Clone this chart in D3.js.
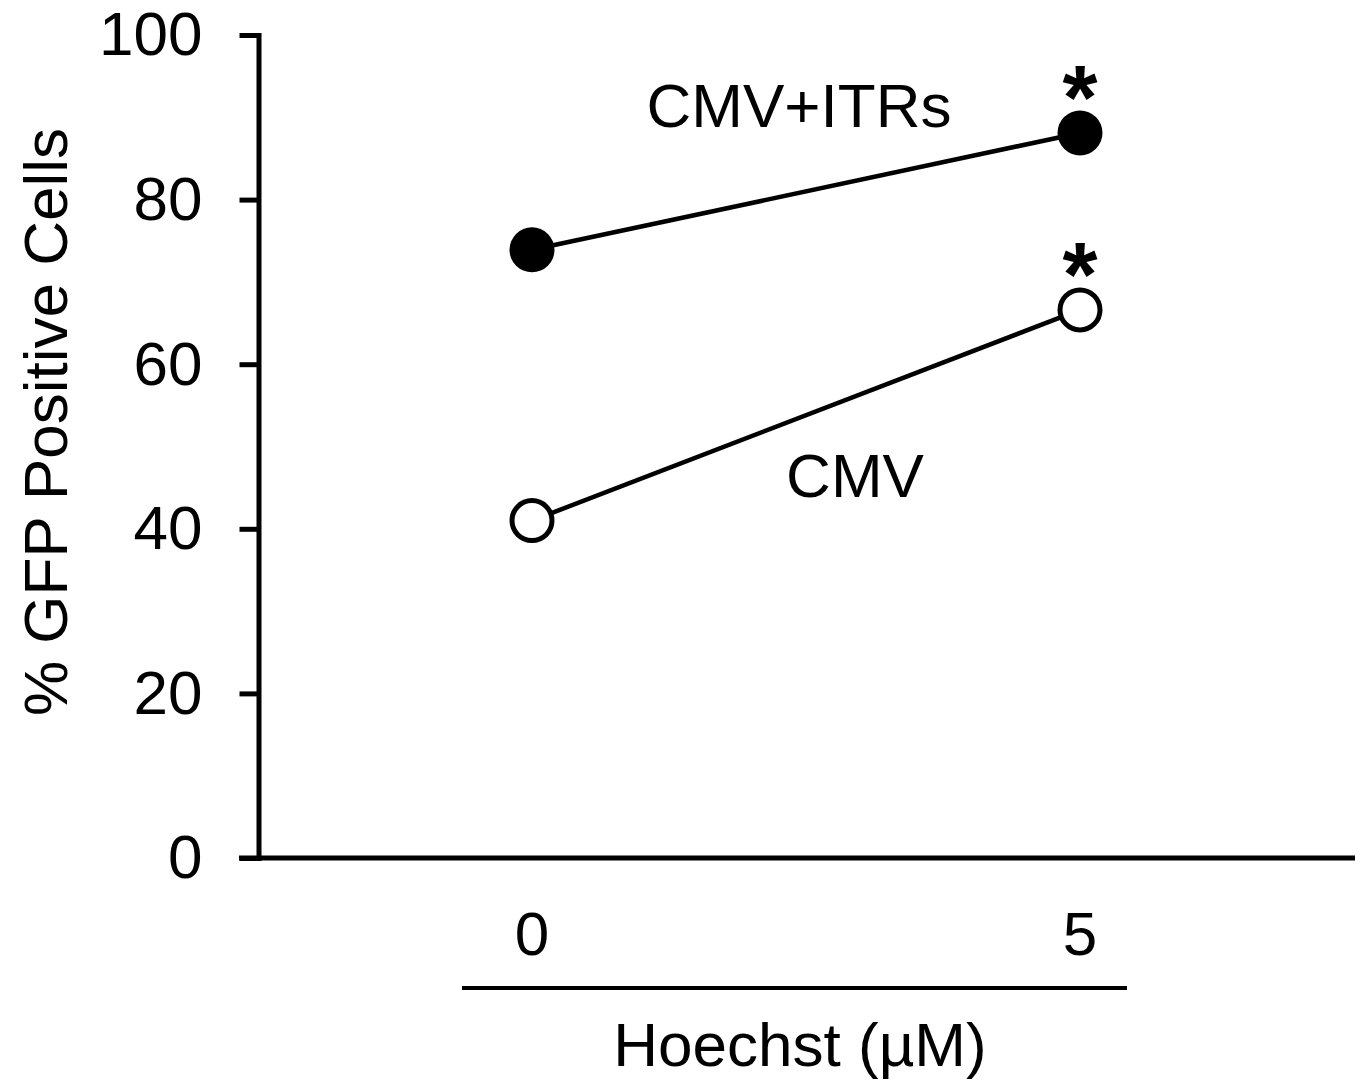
<!DOCTYPE html>
<html>
<head>
<meta charset="utf-8">
<script src="https://cdn.jsdelivr.net/npm/d3@7"></script>
<style>
  body { margin: 0; background: #fff; }
  svg text { font-family: "Liberation Sans", Arial, sans-serif; fill: #000; }
</style>
</head>
<body>
<svg id="chart" width="1362" height="1081"></svg>
<script>
// data
var doses = ["0", "5"];
var cmvItrs = [73.9, 88.1];
var cmv = [41.0, 66.6];
var signif = [false, true];
var yTicks = [0, 20, 40, 60, 80, 100];

var width = 1362,
    height = 1081,
    fontSize = 62;

var svg = d3.select("#chart");

var y = d3.scaleLinear().domain([0, 100]).range([858, 35]);
var x = d3.scalePoint().domain(doses).range([532, 1080]);
var axisX = 258.5;

// y axis
var yAxis = svg.append("g")
    .attr("transform", "translate(" + axisX + ",0)")
    .call(d3.axisLeft(y).tickValues(yTicks).tickSize(19).tickSizeOuter(0).tickPadding(37));
yAxis.select(".domain").attr("stroke", "#000").attr("stroke-width", 5).attr("stroke-linecap", "square");
yAxis.selectAll(".tick line").attr("stroke", "#000").attr("stroke-width", 5);
yAxis.selectAll(".tick text")
    .attr("font-size", fontSize)
    .attr("font-family", "Liberation Sans, Arial, sans-serif")
    .attr("fill", "#000");

// x baseline
svg.append("line")
    .attr("x1", 239).attr("x2", 1355)
    .attr("y1", y(0)).attr("y2", y(0))
    .attr("stroke", "#000").attr("stroke-width", 5);

// y title
svg.append("text")
    .attr("transform", "translate(67," + 422 + ") rotate(-90)")
    .attr("text-anchor", "middle")
    .attr("font-size", fontSize)
    .text("% GFP Positive Cells");

// dose labels under the axis
svg.selectAll(".dose")
    .data(doses)
    .enter().append("text")
    .attr("class", "dose")
    .attr("x", function(d) { return x(d); })
    .attr("y", 955)
    .attr("text-anchor", "middle")
    .attr("font-size", fontSize)
    .text(function(d) { return d; });

svg.append("line")
    .attr("x1", 462).attr("x2", 1127)
    .attr("y1", 988).attr("y2", 988)
    .attr("stroke", "#000").attr("stroke-width", 4);

svg.append("text")
    .attr("x", 800)
    .attr("y", 1066)
    .attr("text-anchor", "middle")
    .attr("font-size", fontSize)
    .text("Hoechst (\u00b5M)");

// series
var line = d3.line()
    .x(function(d, i) { return x(doses[i]); })
    .y(function(d) { return y(d); });

function drawSeries(vals, filled) {
    var pts = vals.map(function(v, i) { return { dose: doses[i], value: v, star: signif[i] }; });

    svg.append("path")
        .datum(vals)
        .attr("d", line)
        .attr("fill", "none")
        .attr("stroke", "#000")
        .attr("stroke-width", 4.5);

    svg.selectAll(null)
        .data(pts)
        .enter().append("circle")
        .attr("cx", function(d) { return x(d.dose); })
        .attr("cy", function(d) { return y(d.value); })
        .attr("r", filled ? 22.5 : 20)
        .attr("fill", filled ? "#000" : "#fff")
        .attr("stroke", "#000")
        .attr("stroke-width", filled ? 0 : 5);

    // significance stars
    svg.selectAll(null)
        .data(pts.filter(function(d) { return d.star; }))
        .enter().append("text")
        .attr("x", function(d) { return x(d.dose); })
        .attr("y", function(d) { return y(d.value) - 4; })
        .attr("text-anchor", "middle")
        .attr("font-size", 90)
        .attr("font-weight", "bold")
        .text("*");
}

drawSeries(cmvItrs, true);
drawSeries(cmv, false);

// series labels
svg.append("text")
    .attr("x", 799).attr("y", 127)
    .attr("text-anchor", "middle")
    .attr("font-size", fontSize)
    .text("CMV+ITRs");

svg.append("text")
    .attr("x", 855).attr("y", 497)
    .attr("text-anchor", "middle")
    .attr("font-size", fontSize)
    .text("CMV");
</script>
</body>
</html>
